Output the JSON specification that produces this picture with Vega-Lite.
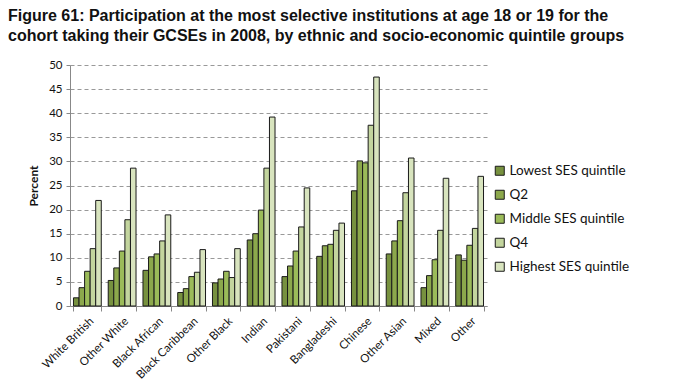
{
  "$schema": "https://vega.github.io/schema/vega-lite/v6.json",
  "width": 417,
  "height": 241,
  "autosize": {"type": "none"},
  "padding": {"left": 70, "top": 65, "right": 201, "bottom": 76},
  "background": "white",
  "title": {
    "text": ["Figure 61: Participation at the most selective institutions at age 18 or 19 for the", "cohort taking their GCSEs in 2008, by ethnic and socio-economic quintile groups"],
    "font": "Liberation Sans",
    "fontSize": 16,
    "fontWeight": "bold",
    "color": "#111111",
    "anchor": "start",
    "frame": "group",
    "dx": -62,
    "offset": 15,
    "lineHeight": 20
  },
  "data": {
    "values": [
      {"group": "White British", "q": "Lowest SES quintile", "v": 1.7},
      {"group": "White British", "q": "Q2", "v": 3.8},
      {"group": "White British", "q": "Middle SES quintile", "v": 7.2},
      {"group": "White British", "q": "Q4", "v": 11.9},
      {"group": "White British", "q": "Highest SES quintile", "v": 21.9},
      {"group": "Other White", "q": "Lowest SES quintile", "v": 5.3},
      {"group": "Other White", "q": "Q2", "v": 7.9},
      {"group": "Other White", "q": "Middle SES quintile", "v": 11.4},
      {"group": "Other White", "q": "Q4", "v": 17.9},
      {"group": "Other White", "q": "Highest SES quintile", "v": 28.6},
      {"group": "Black African", "q": "Lowest SES quintile", "v": 7.4},
      {"group": "Black African", "q": "Q2", "v": 10.2},
      {"group": "Black African", "q": "Middle SES quintile", "v": 10.8},
      {"group": "Black African", "q": "Q4", "v": 13.5},
      {"group": "Black African", "q": "Highest SES quintile", "v": 18.9},
      {"group": "Black Caribbean", "q": "Lowest SES quintile", "v": 2.8},
      {"group": "Black Caribbean", "q": "Q2", "v": 3.6},
      {"group": "Black Caribbean", "q": "Middle SES quintile", "v": 6.1},
      {"group": "Black Caribbean", "q": "Q4", "v": 7.0},
      {"group": "Black Caribbean", "q": "Highest SES quintile", "v": 11.7},
      {"group": "Other Black", "q": "Lowest SES quintile", "v": 4.8},
      {"group": "Other Black", "q": "Q2", "v": 5.6},
      {"group": "Other Black", "q": "Middle SES quintile", "v": 7.2},
      {"group": "Other Black", "q": "Q4", "v": 5.9},
      {"group": "Other Black", "q": "Highest SES quintile", "v": 11.9},
      {"group": "Indian", "q": "Lowest SES quintile", "v": 13.7},
      {"group": "Indian", "q": "Q2", "v": 15.0},
      {"group": "Indian", "q": "Middle SES quintile", "v": 19.9},
      {"group": "Indian", "q": "Q4", "v": 28.6},
      {"group": "Indian", "q": "Highest SES quintile", "v": 39.2},
      {"group": "Pakistani", "q": "Lowest SES quintile", "v": 6.1},
      {"group": "Pakistani", "q": "Q2", "v": 8.3},
      {"group": "Pakistani", "q": "Middle SES quintile", "v": 11.4},
      {"group": "Pakistani", "q": "Q4", "v": 16.4},
      {"group": "Pakistani", "q": "Highest SES quintile", "v": 24.5},
      {"group": "Bangladeshi", "q": "Lowest SES quintile", "v": 10.3},
      {"group": "Bangladeshi", "q": "Q2", "v": 12.5},
      {"group": "Bangladeshi", "q": "Middle SES quintile", "v": 12.8},
      {"group": "Bangladeshi", "q": "Q4", "v": 15.7},
      {"group": "Bangladeshi", "q": "Highest SES quintile", "v": 17.2},
      {"group": "Chinese", "q": "Lowest SES quintile", "v": 23.9},
      {"group": "Chinese", "q": "Q2", "v": 30.1},
      {"group": "Chinese", "q": "Middle SES quintile", "v": 29.7},
      {"group": "Chinese", "q": "Q4", "v": 37.5},
      {"group": "Chinese", "q": "Highest SES quintile", "v": 47.5},
      {"group": "Other Asian", "q": "Lowest SES quintile", "v": 10.8},
      {"group": "Other Asian", "q": "Q2", "v": 13.5},
      {"group": "Other Asian", "q": "Middle SES quintile", "v": 17.7},
      {"group": "Other Asian", "q": "Q4", "v": 23.5},
      {"group": "Other Asian", "q": "Highest SES quintile", "v": 30.7},
      {"group": "Mixed", "q": "Lowest SES quintile", "v": 3.8},
      {"group": "Mixed", "q": "Q2", "v": 6.3},
      {"group": "Mixed", "q": "Middle SES quintile", "v": 9.6},
      {"group": "Mixed", "q": "Q4", "v": 15.7},
      {"group": "Mixed", "q": "Highest SES quintile", "v": 26.5},
      {"group": "Other", "q": "Lowest SES quintile", "v": 10.6},
      {"group": "Other", "q": "Q2", "v": 9.5},
      {"group": "Other", "q": "Middle SES quintile", "v": 12.6},
      {"group": "Other", "q": "Q4", "v": 16.1},
      {"group": "Other", "q": "Highest SES quintile", "v": 26.9}
    ]
  },
  "mark": {"type": "bar", "stroke": "#1a1a1a", "strokeWidth": 1},
  "encoding": {
    "x": {
      "field": "group",
      "type": "nominal",
      "sort": null,
      "scale": {"paddingInner": 0.2, "paddingOuter": 0.1},
      "axis": {
        "title": null,
        "labelAngle": -45,
        "labelAlign": "right",
        "labelBaseline": "top",
        "labelFont": "Lato",
        "labelFontSize": 11.5,
        "labelColor": "#111111",
        "labelPadding": 4,
        "tickBand": "extent",
        "tickSize": 5,
        "tickColor": "#888888",
        "domainColor": "#888888",
        "labelOverlap": false
      }
    },
    "xOffset": {
      "field": "q",
      "type": "nominal",
      "sort": ["Lowest SES quintile", "Q2", "Middle SES quintile", "Q4", "Highest SES quintile"],
      "scale": {"paddingInner": 0, "paddingOuter": 0}
    },
    "y": {
      "field": "v",
      "type": "quantitative",
      "scale": {"domain": [0, 50], "nice": false},
      "axis": {
        "title": "Percent",
        "titleFont": "Lato",
        "titleFontSize": 12,
        "titleFontWeight": "bold",
        "titleColor": "#111111",
        "titlePadding": 8,
        "values": [0, 5, 10, 15, 20, 25, 30, 35, 40, 45, 50],
        "labelFont": "Lato",
        "labelFontSize": 11.5,
        "labelColor": "#111111",
        "labelPadding": 4,
        "tickSize": 4,
        "tickColor": "#888888",
        "domainColor": "#888888",
        "grid": true,
        "gridDash": [4, 3],
        "gridColor": "#999999",
        "gridWidth": 1
      }
    },
    "color": {
      "field": "q",
      "type": "nominal",
      "sort": ["Lowest SES quintile", "Q2", "Middle SES quintile", "Q4", "Highest SES quintile"],
      "scale": {
        "domain": ["Lowest SES quintile", "Q2", "Middle SES quintile", "Q4", "Highest SES quintile"],
        "range": ["#77913f", "#8ca84c", "#9bbb59", "#c3d59e", "#d8e4be"]
      },
      "legend": {
        "title": null,
        "orient": "none",
        "legendX": 423,
        "legendY": 99,
        "symbolType": "square",
        "symbolSize": 81,
        "symbolStrokeColor": "#1a1a1a",
        "symbolStrokeWidth": 1,
        "labelFont": "Lato",
        "labelFontSize": 13.5,
        "labelColor": "#111111",
        "rowPadding": 9,
        "labelOffset": 3
      }
    }
  },
  "config": {"view": {"stroke": null}}
}
